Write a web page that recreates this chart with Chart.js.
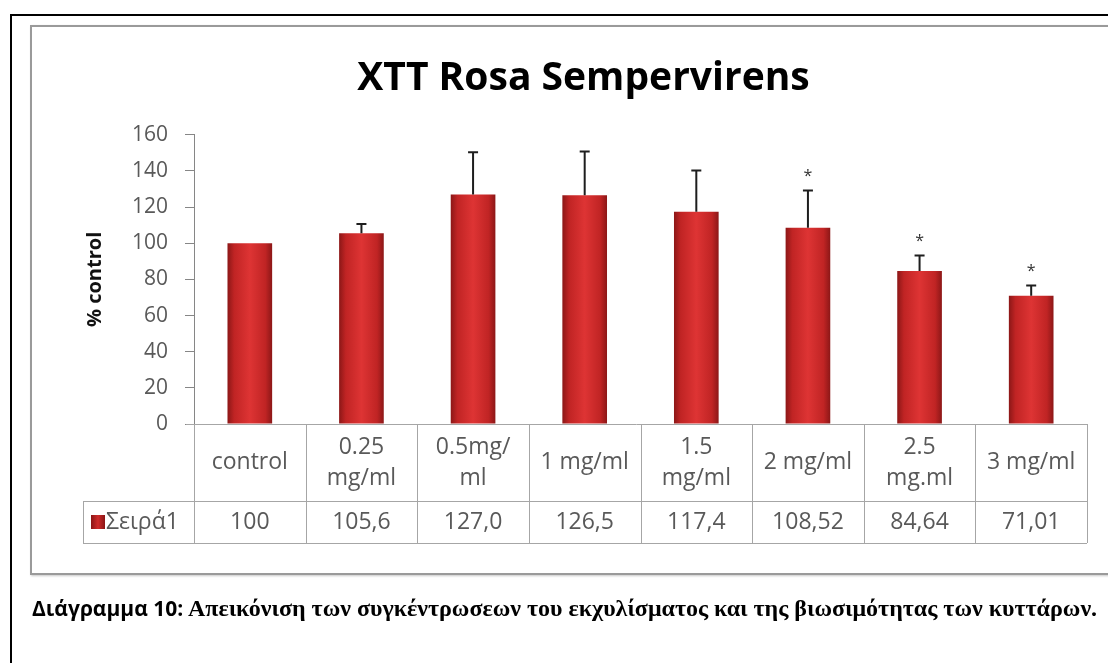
<!DOCTYPE html>
<html>
<head>
<meta charset="utf-8">
<script src="https://cdn.jsdelivr.net/npm/chart.js@4.4.1/dist/chart.umd.min.js"></script>
<style>
  html, body { margin: 0; padding: 0; background: #fff; overflow: hidden; }
  body { width: 1108px; height: 663px; position: relative; }
  .frame { position: absolute; left: 10px; top: 14px; width: 1200px; height: 800px; border: 2px solid #000; }
  .box { position: absolute; left: 30px; top: 25px; width: 1200px; height: 546px; border: 2px solid #9a9a9a; box-shadow: 1px 1px 2px #c8c8c8; }
  .caption { position: absolute; left: 32px; top: 593px; white-space: nowrap; color: #000; line-height: 30px; }
  .caption .lead { font-family: "Open Sans", sans-serif; font-weight: 700; font-size: 21px; }
  .caption .rest { font-family: "Liberation Serif", serif; font-weight: 700; font-size: 24px; }
  #chart { position: absolute; left: 0; top: 0; }
</style>
</head>
<body>
<div class="frame"></div>
<div class="box"></div>
<canvas id="chart" width="1108" height="663"></canvas>
<div class="caption"><span class="lead">Διάγραμμα 10:</span><span class="rest"> Απεικόνιση των συγκέντρωσεων του εκχυλίσματος και της βιωσιμότητας των κυττάρων.</span></div>
<script>
const categories = [
    ['control'], ['0.25', 'mg/ml'], ['0.5mg/', 'ml'], ['1 mg/ml'],
    ['1.5', 'mg/ml'], ['2 mg/ml'], ['2.5', 'mg.ml'], ['3 mg/ml']
];
const seriesName = 'Σειρά1';
const values = [100, 105.6, 127.0, 126.5, 117.4, 108.52, 84.64, 71.01];
const decimals = [0, 1, 1, 1, 1, 2, 2, 2];
const errors = [0, 5.1, 23.4, 24.3, 22.9, 20.7, 8.6, 5.6];
const stars = ['', '', '', '', '', '*', '*', '*'];
const yTicks = [0, 20, 40, 60, 80, 100, 120, 140, 160];

const FONT = '"Open Sans", sans-serif';
const GRAY_TEXT = '#595959';
const LINE = '#a6a6a6';

function barGradient(ctx) {
    const chart = ctx.chart;
    const x = chart.scales.x;
    if (!chart.chartArea || !x) return '#c62828';
    const cx = x.getPixelForValue(ctx.dataIndex);
    const half = (x.width / categories.length) * 0.4 / 2;
    const g = chart.ctx.createLinearGradient(cx - half, 0, cx + half, 0);
    g.addColorStop(0, '#8c1717');
    g.addColorStop(0.15, '#c02424');
    g.addColorStop(0.5, '#de3434');
    g.addColorStop(0.85, '#c02424');
    g.addColorStop(1, '#8c1717');
    return g;
}

// error bars and significance stars on top of the bars
const errorBars = {
    id: 'errorBars',
    afterDatasetsDraw(chart) {
        const ctx = chart.ctx;
        const y = chart.scales.y;
        const meta = chart.getDatasetMeta(0);
        ctx.save();
        ctx.strokeStyle = '#1e1e1e';
        ctx.lineWidth = 2;
        meta.data.forEach((bar, i) => {
            const top = y.getPixelForValue(values[i] + errors[i]);
            if (errors[i] > 0) {
                ctx.beginPath();
                ctx.moveTo(bar.x, bar.y);
                ctx.lineTo(bar.x, top);
                ctx.moveTo(bar.x - 5, top);
                ctx.lineTo(bar.x + 5, top);
                ctx.stroke();
            }
            if (stars[i]) {
                ctx.fillStyle = '#333';
                ctx.font = '16px ' + FONT;
                ctx.textAlign = 'center';
                ctx.textBaseline = 'middle';
                ctx.fillText(stars[i], bar.x, top - 14);
            }
        });
        ctx.restore();
    }
};

// data table drawn under the category axis
const dataTable = {
    id: 'dataTable',
    afterDraw(chart) {
        const ctx = chart.ctx;
        const x = chart.scales.x;
        const area = chart.chartArea;
        const n = categories.length;
        const colW = (area.right - area.left) / n;
        const top = area.bottom;
        const mid = top + 77;
        const bottom = mid + 42;
        const legendLeft = 83;

        ctx.save();
        ctx.strokeStyle = LINE;
        ctx.lineWidth = 1;
        ctx.beginPath();
        ctx.moveTo(area.left - 8, top + 0.5);
        ctx.lineTo(area.right, top + 0.5);
        ctx.moveTo(legendLeft, mid + 0.5);
        ctx.lineTo(area.right, mid + 0.5);
        ctx.moveTo(legendLeft, bottom + 0.5);
        ctx.lineTo(area.right, bottom + 0.5);
        for (let i = 0; i <= n; i++) {
            const px = Math.round(area.left + i * colW) + 0.5;
            ctx.moveTo(px, top);
            ctx.lineTo(px, bottom);
        }
        ctx.moveTo(legendLeft + 0.5, mid);
        ctx.lineTo(legendLeft + 0.5, bottom);
        ctx.stroke();

        ctx.fillStyle = GRAY_TEXT;
        ctx.font = '23px ' + FONT;
        ctx.textAlign = 'center';
        ctx.textBaseline = 'middle';
        const headMid = (top + mid) / 2;
        categories.forEach((lines, i) => {
            const cx = x.getPixelForValue(i);
            const lh = 31;
            lines.forEach((t, k) => {
                ctx.fillText(t, cx, headMid + (k - (lines.length - 1) / 2) * lh);
            });
            const txt = values[i].toFixed(decimals[i]).replace('.', ',');
            ctx.fillText(txt, cx, (mid + bottom) / 2);
        });

        // legend key
        const ky = (mid + bottom) / 2;
        const g = ctx.createLinearGradient(91, 0, 105, 0);
        g.addColorStop(0, '#8a1515');
        g.addColorStop(0.5, '#cf2a2a');
        g.addColorStop(1, '#8a1515');
        ctx.fillStyle = g;
        ctx.fillRect(91, ky - 7, 14, 14);
        ctx.fillStyle = GRAY_TEXT;
        ctx.textAlign = 'left';
        ctx.fillText(seriesName, 106, ky);
        ctx.restore();
    }
};

new Chart(document.getElementById('chart'), {
    type: 'bar',
    data: {
        labels: categories,
        datasets: [{
            label: seriesName,
            data: values,
            backgroundColor: barGradient,
            borderWidth: 0,
            barPercentage: 0.4,
            categoryPercentage: 1.0
        }]
    },
    options: {
        responsive: false,
        animation: false,
        layout: { padding: { left: 80, right: 21, top: 20, bottom: 239 } },
        plugins: {
            legend: { display: false },
            tooltip: { enabled: false },
            title: {
                display: true,
                text: 'XTT Rosa Sempervirens',
                color: '#000',
                font: { family: FONT, size: 39, weight: '700' },
                padding: { top: 35, bottom: 33 }
            }
        },
        scales: {
            x: { display: false },
            y: {
                min: 0,
                max: 160,
                afterFit(scale) { scale.width = 114; },
                afterBuildTicks(scale) { scale.ticks = yTicks.map(v => ({ value: v })); },
                border: { display: true, color: '#868686', width: 1 },
                grid: { drawOnChartArea: false, drawTicks: true, tickLength: 9, color: '#868686' },
                ticks: {
                    color: GRAY_TEXT,
                    padding: 17,
                    font: { family: FONT, size: 21 }
                },
                title: {
                    display: true,
                    text: '% control',
                    color: '#111',
                    font: { family: FONT, size: 20, weight: '700' },
                    padding: { top: 3, bottom: 0 }
                }
            }
        }
    },
    plugins: [errorBars, dataTable]
});
</script>
</body>
</html>
